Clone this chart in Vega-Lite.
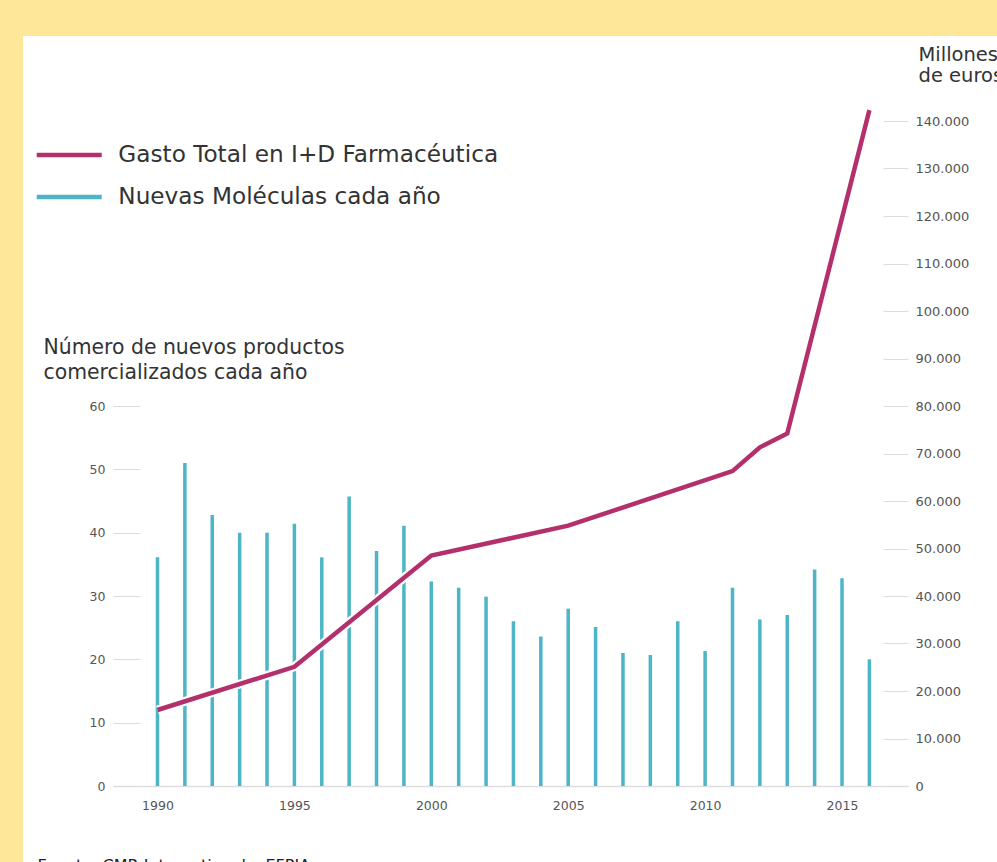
{
  "$schema": "https://vega.github.io/schema/vega-lite/v6.json",
  "width": 974,
  "height": 826,
  "autosize": {"type": "none"},
  "padding": {"left": 23, "top": 36, "right": 0, "bottom": 0},
  "background": "#FFE79A",
  "config": {
    "view": {"fill": "#ffffff", "stroke": null},
    "font": "DejaVu Sans",
    "axis": {"labelFont": "DejaVu Sans", "titleFont": "DejaVu Sans", "grid": false, "labelColor": "#555555", "titleColor": "#333333", "titleFontWeight": "normal", "titleLimit": 2000}
  },
  "datasets": {
    "moleculas": [
      {"year": 1990, "moleculas": 36.1},
      {"year": 1991, "moleculas": 51.0},
      {"year": 1992, "moleculas": 42.8},
      {"year": 1993, "moleculas": 40.0},
      {"year": 1994, "moleculas": 40.0},
      {"year": 1995, "moleculas": 41.4},
      {"year": 1996, "moleculas": 36.1},
      {"year": 1997, "moleculas": 45.7},
      {"year": 1998, "moleculas": 37.1},
      {"year": 1999, "moleculas": 41.1},
      {"year": 2000, "moleculas": 32.3},
      {"year": 2001, "moleculas": 31.3},
      {"year": 2002, "moleculas": 29.9},
      {"year": 2003, "moleculas": 26.0},
      {"year": 2004, "moleculas": 23.6},
      {"year": 2005, "moleculas": 28.0},
      {"year": 2006, "moleculas": 25.1},
      {"year": 2007, "moleculas": 21.0},
      {"year": 2008, "moleculas": 20.7},
      {"year": 2009, "moleculas": 26.0},
      {"year": 2010, "moleculas": 21.3},
      {"year": 2011, "moleculas": 31.3},
      {"year": 2012, "moleculas": 26.3},
      {"year": 2013, "moleculas": 27.0},
      {"year": 2014, "moleculas": 34.2},
      {"year": 2015, "moleculas": 32.8},
      {"year": 2016, "moleculas": 20.0}
    ],
    "gasto": [
      {"year": 1990, "gasto": 16000},
      {"year": 1995, "gasto": 25100},
      {"year": 2000, "gasto": 48500},
      {"year": 2005, "gasto": 54800},
      {"year": 2011, "gasto": 66300},
      {"year": 2012, "gasto": 71300},
      {"year": 2013, "gasto": 74200},
      {"year": 2016, "gasto": 142300}
    ]
  },
  "layer": [
    {
      "data": {"name": "moleculas"},
      "mark": {"type": "rule", "strokeWidth": 3.5, "strokeCap": "butt"},
      "encoding": {
        "x": {
          "field": "year", "type": "quantitative",
          "scale": {"domain": [1988.375, 2017.41], "range": [90, 885], "nice": false, "zero": false},
          "axis": {
            "values": [1990, 1995, 2000, 2005, 2010, 2015], "format": "d",
            "offset": -76, "ticks": false, "tickSize": 0, "labelPadding": 13,
            "labelFontSize": 12.5, "labelFlush": false, "labelOverlap": false,
            "domain": true, "domainColor": "#dddddd", "domainWidth": 1.5,
            "title": "Fuente: CMR International y EFPIA",
            "titleX": 14, "titleY": 71, "titleBaseline": "top", "titleAlign": "left",
            "titleFontSize": 16, "titleColor": "#222222"
          }
        },
        "y": {
          "field": "moleculas", "type": "quantitative",
          "scale": {"domain": [0, 60], "range": [750, 370], "nice": false},
          "axis": {
            "orient": "left", "values": [0, 10, 20, 30, 40, 50, 60],
            "offset": -117, "tickSize": 27, "tickColor": "#dcdcdc", "tickWidth": 1,
            "domain": false, "labelPadding": 8, "labelFontSize": 12.5,
            "title": ["Número de nuevos productos", "comercializados cada año"],
            "titleAngle": 0, "titleAlign": "left", "titleBaseline": "alphabetic",
            "titleX": -97, "titleY": 317, "titleFontSize": 20.4, "titleLineHeight": 25
          }
        },
        "y2": {"datum": 0},
        "color": {
          "datum": "Nuevas Moléculas cada año", "type": "nominal",
          "scale": {"domain": ["Gasto Total en I+D Farmacéutica", "Nuevas Moléculas cada año"], "range": ["#B4306C", "#4DB5C5"]},
          "legend": {
            "orient": "none", "legendX": 13.7, "legendY": 106.5, "direction": "vertical",
            "title": null, "padding": 0,
            "symbolType": "M-3.25,0H3.25", "symbolSize": 400, "symbolStrokeWidth": 4.5,
            "symbolOffset": 20, "labelOffset": 36.6, "rowPadding": 18,
            "labelFont": "DejaVu Sans", "labelFontSize": 23.2, "labelColor": "#333333", "labelLimit": 2000
          }
        }
      }
    },
    {
      "data": {"name": "gasto"},
      "mark": {"type": "line", "color": "#ffffff", "strokeWidth": 9},
      "encoding": {
        "x": {"field": "year", "type": "quantitative"},
        "y": {
          "field": "gasto", "type": "quantitative",
          "scale": {"domain": [0, 140000], "range": [750, 85], "nice": false},
          "axis": null
        }
      }
    },
    {
      "data": {"name": "gasto"},
      "mark": {"type": "line", "strokeWidth": 4.5},
      "encoding": {
        "x": {"field": "year", "type": "quantitative"},
        "y": {
          "field": "gasto", "type": "quantitative",
          "scale": {"domain": [0, 140000], "range": [750, 85], "nice": false},
          "axis": {
            "orient": "right", "values": [0, 10000, 20000, 30000, 40000, 50000, 60000, 70000, 80000, 90000, 100000, 110000, 120000, 130000, 140000],
            "labelExpr": "replace(format(datum.value, ','), ',', '.')",
            "offset": -114, "tickSize": 25, "tickColor": "#dcdcdc", "tickWidth": 1,
            "domain": false, "labelPadding": 7, "labelFontSize": 13,
            "title": ["Millones", "de euros"],
            "titleAngle": 0, "titleAlign": "left", "titleBaseline": "alphabetic",
            "titleX": 35, "titleY": 24, "titleFontSize": 19.5, "titleLineHeight": 21
          }
        },
        "color": {"datum": "Gasto Total en I+D Farmacéutica", "type": "nominal"}
      }
    }
  ],
  "resolve": {"scale": {"y": "independent"}, "axis": {"y": "independent"}}
}
